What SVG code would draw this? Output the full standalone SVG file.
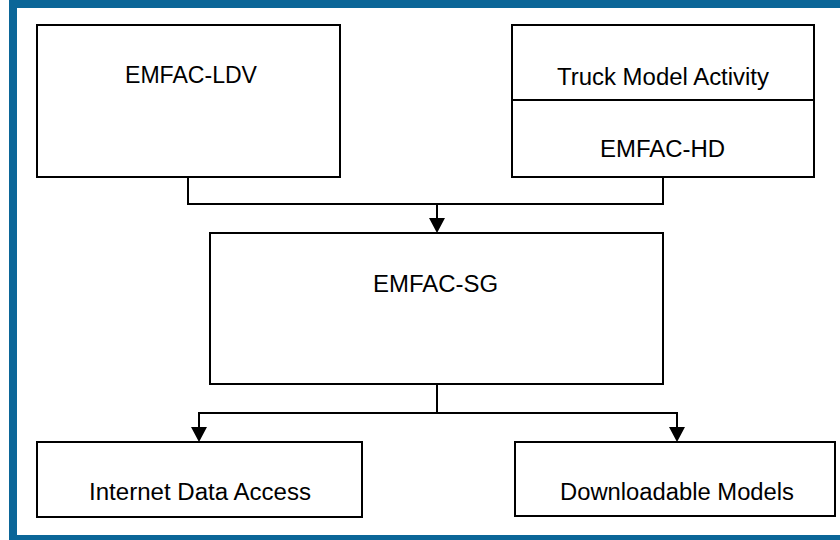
<svg xmlns="http://www.w3.org/2000/svg" width="840" height="540" viewBox="0 0 840 540">
  <style>
    .box { fill: #ffffff; stroke: #000000; stroke-width: 2; }
    .line { fill: none; stroke: #000000; stroke-width: 2; }
    .label { font-family: "Liberation Sans", Arial, sans-serif; font-size: 23px; fill: #000000; text-anchor: middle; }
    .frame { fill: #0b6698; }
  </style>
  <rect x="0" y="0" width="840" height="540" fill="#ffffff"/>
  <g id="frame">
    <rect class="frame" x="9" y="0" width="831" height="8"/>
    <rect class="frame" x="9" y="0" width="8" height="540"/>
    <rect class="frame" x="9" y="535" width="831" height="5"/>
  </g>
  <g id="connectors">
    <path class="line" d="M188,177 V204 H663 V177"/>
    <line class="line" x1="437" y1="204" x2="437" y2="218"/>
    <path d="M429,218 L445,218 L437,233 Z" fill="#000"/>
    <path class="line" d="M437,384 V413"/>
    <path class="line" d="M199,427 V413 H677 V427"/>
    <path d="M191,427 L207,427 L199,442 Z" fill="#000"/>
    <path d="M669,427 L685,427 L677,442 Z" fill="#000"/>
  </g>
  <g id="emfac-ldv">
    <rect class="box" x="37" y="25" width="303" height="152"/>
    <text class="label" x="191" y="83" textLength="132" lengthAdjust="spacingAndGlyphs">EMFAC-LDV</text>
  </g>
  <g id="emfac-hd">
    <rect class="box" x="512" y="25" width="302" height="152"/>
    <line class="line" x1="512" y1="100" x2="814" y2="100"/>
    <text class="label" x="663" y="85" textLength="212" lengthAdjust="spacingAndGlyphs">Truck Model Activity</text>
    <text class="label" x="662.5" y="157" textLength="125" lengthAdjust="spacingAndGlyphs">EMFAC-HD</text>
  </g>
  <g id="emfac-sg">
    <rect class="box" x="210" y="233" width="453" height="151"/>
    <text class="label" x="435.5" y="292" textLength="125" lengthAdjust="spacingAndGlyphs">EMFAC-SG</text>
  </g>
  <g id="internet">
    <rect class="box" x="37" y="442" width="325" height="75"/>
    <text class="label" x="200" y="500" textLength="222" lengthAdjust="spacingAndGlyphs">Internet Data Access</text>
  </g>
  <g id="downloadable">
    <rect class="box" x="515" y="442" width="320" height="74"/>
    <text class="label" x="677" y="500" textLength="234" lengthAdjust="spacingAndGlyphs">Downloadable Models</text>
  </g>
</svg>
